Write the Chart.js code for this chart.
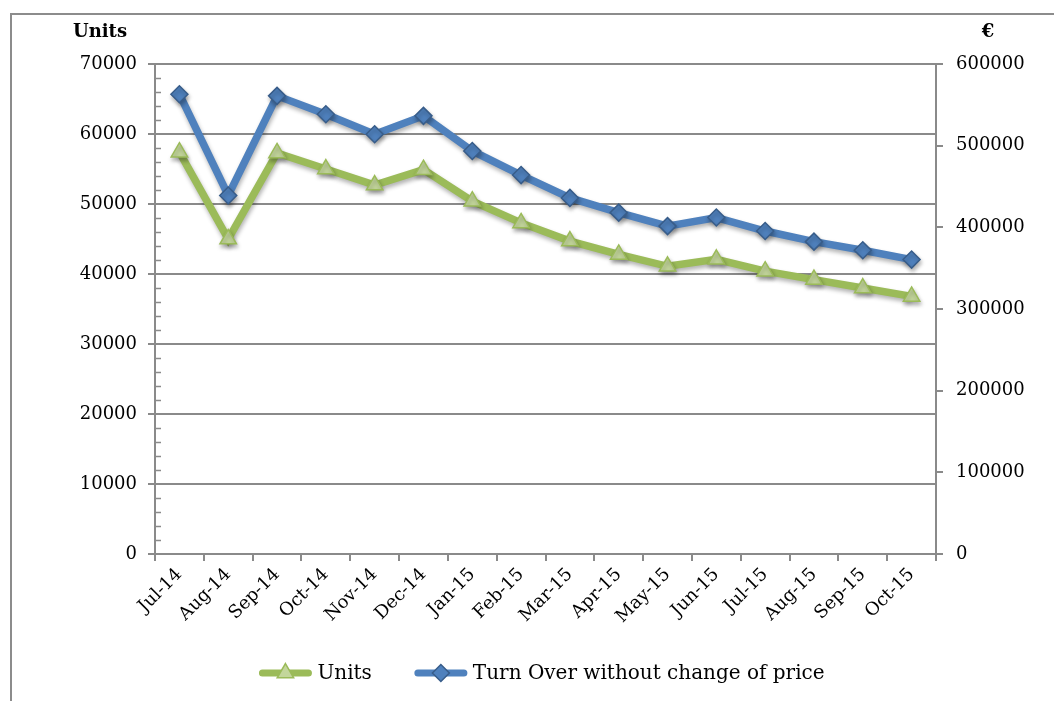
<!DOCTYPE html>
<html>

<head>
  <title>Units and Turn Over</title>
  <script src="https://cdn.jsdelivr.net/npm/chart.js"></script>
  <style>
    body { margin: 0; background: #fff; }
    .frame { position: absolute; left: 10px; top: 13px; right: 0; bottom: 0; border-top: 2px solid #8c8c8c; border-left: 2px solid #8c8c8c; }
    .wrap { position: absolute; left: 0; top: 0; }
  </style>
</head>

<body>
  <div class="frame"></div>
  <div class="wrap"><canvas id="chart" width="1054" height="701"></canvas></div>

  <script>
    // data
    const months = ['Jul-14', 'Aug-14', 'Sep-14', 'Oct-14', 'Nov-14', 'Dec-14', 'Jan-15', 'Feb-15',
      'Mar-15', 'Apr-15', 'May-15', 'Jun-15', 'Jul-15', 'Aug-15', 'Sep-15', 'Oct-15'];
    const units = [57400, 45000, 57300, 55000, 52700, 54900, 50400, 47300,
      44700, 42800, 41100, 42100, 40400, 39200, 38000, 36800];
    const turnOver = [563000, 439000, 561000, 538500, 514000, 536500, 493500, 464000,
      436000, 418000, 401500, 412000, 395500, 382500, 372000, 360500];
    const leftTitle = 'Units';
    const rightTitle = '€';

    const gridColor = '#8a8a8a';
    const fontFamily = '"DejaVu Serif", serif';

    // small tick marks inside the left axis, every 2000
    const minorTicks = {
      id: 'minorTicks',
      beforeDatasetsDraw(chart) {
        const y = chart.scales.y;
        const ctx = chart.ctx;
        ctx.save();
        ctx.strokeStyle = gridColor;
        ctx.lineWidth = 1.5;
        for (let v = y.min; v <= y.max; v += 2000) {
          if (v % 10000 === 0) continue;
          const py = Math.round(y.getPixelForValue(v)) + 0.5;
          ctx.beginPath();
          ctx.moveTo(y.right, py);
          ctx.lineTo(y.right + 6, py);
          ctx.stroke();
        }
        ctx.restore();
      }
    };

    // soft shadow under lines and markers
    const markerShadow = {
      id: 'markerShadow',
      beforeDatasetsDraw(chart) {
        const c = chart.ctx;
        c.save();
        c.shadowColor = 'rgba(0,0,0,0.3)';
        c.shadowBlur = 4;
        c.shadowOffsetX = 1;
        c.shadowOffsetY = 3;
      },
      afterDatasetsDraw(chart) {
        chart.ctx.restore();
      }
    };

    // axis titles above the two y axes
    const axisTitles = {
      id: 'axisTitles',
      afterDraw(chart) {
        const ctx = chart.ctx;
        ctx.save();
        ctx.font = 'bold 18px ' + fontFamily;
        ctx.fillStyle = '#000';
        ctx.textAlign = 'center';
        ctx.textBaseline = 'middle';
        ctx.fillText(leftTitle, 100, 32);
        ctx.fillText(rightTitle, 988, 32);
        ctx.restore();
      }
    };

    // legend: line sample with marker, then text
    const lineLegend = {
      id: 'lineLegend',
      afterDraw(chart) {
        const ctx = chart.ctx;
        const area = chart.chartArea;
        const sampleW = 54, gapText = 5, gapItem = 42;
        const y = 673;
        ctx.save();
        ctx.font = '20px ' + fontFamily;
        const items = chart.data.datasets.map(ds => ({ ds: ds, w: sampleW + gapText + ctx.measureText(ds.label).width }));
        const total = items.reduce((s, it) => s + it.w, 0) + gapItem * (items.length - 1);
        let x = (area.left + area.right) / 2 - total / 2 - 4;
        items.forEach(it => {
          const ds = it.ds;
          ctx.strokeStyle = ds.borderColor;
          ctx.lineWidth = 7;
          ctx.lineCap = 'round';
          ctx.beginPath();
          ctx.moveTo(x + 4, y);
          ctx.lineTo(x + sampleW - 4, y);
          ctx.stroke();
          ctx.fillStyle = ds.pointBackgroundColor;
          ctx.strokeStyle = ds.pointBorderColor;
          ctx.lineWidth = ds.pointBorderWidth;
          Chart.helpers.drawPoint(ctx, { pointStyle: ds.pointStyle, radius: ds.pointRadius, rotation: 0, borderWidth: ds.pointBorderWidth }, x + sampleW / 2, y);
          ctx.fillStyle = '#000';
          ctx.textAlign = 'left';
          ctx.textBaseline = 'middle';
          ctx.fillText(ds.label, x + sampleW + gapText, y + 1);
          x += it.w + gapItem;
        });
        ctx.restore();
      }
    };

    const ctx = document.getElementById('chart').getContext('2d');

    const chart = new Chart(ctx, {
      type: 'line',
      data: {
        labels: months,
        datasets: [{
          label: 'Units',
          data: units,
          yAxisID: 'y',
          borderColor: '#9BBB59',
          borderWidth: 7.5,
          pointStyle: 'triangle',
          pointRadius: 9.5,
          pointBackgroundColor: '#C3D69B',
          pointBorderColor: '#9BBB59',
          pointBorderWidth: 1.5,
          tension: 0
        }, {
          label: 'Turn Over without change of price',
          data: turnOver,
          yAxisID: 'y1',
          borderColor: '#4F81BD',
          borderWidth: 7.5,
          pointStyle: 'rectRot',
          pointRadius: 8.5,
          pointBackgroundColor: '#4F81BD',
          pointBorderColor: '#385D8A',
          pointBorderWidth: 1.5,
          tension: 0
        }]
      },
      options: {
        responsive: false,
        animation: false,
        layout: { padding: { left: 30, top: 64, right: 0, bottom: 0 } },
        plugins: {
          legend: { display: false },
          tooltip: { enabled: false }
        },
        scales: {
          x: {
            offset: true,
            grid: { offset: true, drawOnChartArea: false, color: gridColor, lineWidth: 2, tickLength: 7 },
            border: { color: gridColor, width: 2 },
            ticks: { color: '#000', font: { family: fontFamily, size: 18 }, minRotation: 45, maxRotation: 45, autoSkip: false, padding: 3 },
            afterFit(s) { s.height = 147; }
          },
          y: {
            position: 'left',
            min: 0,
            max: 70000,
            grid: { color: gridColor, lineWidth: 2, tickLength: 7 },
            border: { color: gridColor, width: 2 },
            ticks: { stepSize: 10000, color: '#000', font: { family: fontFamily, size: 18 }, padding: 11, callback: v => String(v) },
            afterFit(s) { s.width = 125; }
          },
          y1: {
            position: 'right',
            min: 0,
            max: 600000,
            grid: { drawOnChartArea: false, color: gridColor, lineWidth: 2, tickLength: 7 },
            border: { color: gridColor, width: 2 },
            ticks: { stepSize: 100000, color: '#000', font: { family: fontFamily, size: 18 }, padding: 13, callback: v => String(v) },
            afterFit(s) { s.width = 118; }
          }
        }
      },
      plugins: [minorTicks, markerShadow, axisTitles, lineLegend]
    });
  </script>
</body>

</html>
